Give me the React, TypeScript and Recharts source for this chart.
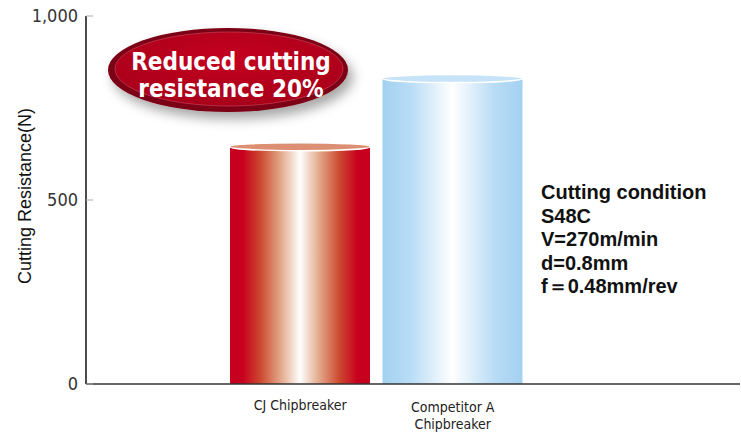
import React from "react";
import { BarChart, Bar, XAxis, YAxis } from "recharts";

// chart values
const categories = ["CJ Chipbreaker", "Competitor A\nChipbreaker"];
const resistance = [645, 830];
const yTicks = [0, 500, 1000];
const badgeLines = ["Reduced cutting", "resistance 20%"];
const conditionLines = ["Cutting condition", "S48C", "V=270m/min", "d=0.8mm", "f\uFF1D0.48mm/rev"];

const data = categories.map((name, i) => ({ name, value: resistance[i] }));

const W = 741;
const H = 432;
const NARROW = "'DejaVu Sans Condensed', 'Liberation Sans Narrow', 'Liberation Sans', Arial, sans-serif";
const SANS = "'Liberation Sans', Arial, sans-serif";

// cylinder bar, red for ours, blue for competitor
const Cylinder = (props: any) => {
  const { x, y, width, height, index } = props;
  const red = index === 0;
  const id = red ? "cylRed" : "cylBlue";
  return (
    <g>
      <defs>
        {red ? (
          <linearGradient id={id} x1="0" y1="0" x2="1" y2="0">
            <stop offset="0%" stopColor="#c8001f" />
            <stop offset="9%" stopColor="#c8001f" />
            <stop offset="22%" stopColor="#cc4a30" />
            <stop offset="38%" stopColor="#e6b396" />
            <stop offset="50%" stopColor="#ffffff" />
            <stop offset="62%" stopColor="#e6b396" />
            <stop offset="78%" stopColor="#cc4a30" />
            <stop offset="91%" stopColor="#c8001f" />
            <stop offset="100%" stopColor="#c8001f" />
          </linearGradient>
        ) : (
          <linearGradient id={id} x1="0" y1="0" x2="1" y2="0">
            <stop offset="0%" stopColor="#a3d1f1" />
            <stop offset="20%" stopColor="#b8dcf5" />
            <stop offset="50%" stopColor="#ffffff" />
            <stop offset="80%" stopColor="#b8dcf5" />
            <stop offset="100%" stopColor="#a3d1f1" />
          </linearGradient>
        )}
      </defs>
      <rect x={x} y={y} width={width} height={height} fill={`url(#${id})`} />
      <ellipse
        cx={x + width / 2}
        cy={y}
        rx={width / 2}
        ry={4}
        fill={red ? "#dc8f72" : "#c6e3f8"}
        stroke="#ffffff"
        strokeWidth={1.5}
      />
    </g>
  );
};

const CategoryTick = (props: any) => {
  const { x, y, payload } = props;
  const lines = String(payload.value).split("\n");
  const first = lines.length === 1 ? 18 : 20;
  return (
    <g>
      {lines.map((l, i) => (
        <text
          key={i}
          x={x}
          y={y + first + i * 16.5}
          textAnchor="middle"
          fill="#222"
          fontSize={14}
          fontFamily={NARROW}
        >
          {l}
        </text>
      ))}
    </g>
  );
};

const ValueTick = (props: any) => {
  const { x, y, payload } = props;
  return (
    <g>
      <line x1={x + 8} x2={x + 15} y1={y} y2={y} stroke="#aaaaaa" />
      <text x={x} y={y} dy={6} textAnchor="end" fill="#333" fontSize={18} fontFamily={NARROW}>
        {Number(payload.value).toLocaleString("en-US")}
      </text>
    </g>
  );
};

export default function App() {
  return (
    <div style={{ position: "absolute", left: 0, top: 0, width: W, height: H, background: "#fff" }}>
      <BarChart width={W} height={H} data={data} margin={{ top: 16, right: 1, left: 0, bottom: 0 }}>
        <XAxis
          dataKey="name"
          height={48}
          padding={{ left: 138, right: 211 }}
          tick={<CategoryTick />}
          tickLine={false}
          axisLine={{ stroke: "#333", strokeWidth: 1.5 }}
          interval={0}
        />
        <XAxis
          xAxisId="top"
          dataKey="name"
          orientation="top"
          height={0}
          tick={false}
          tickLine={false}
          axisLine={{ stroke: "#222", strokeWidth: 1.5 }}
        />
        <YAxis
          width={86}
          domain={[0, 1000]}
          ticks={yTicks}
          tick={<ValueTick />}
          tickLine={false}
          axisLine={{ stroke: "#111", strokeWidth: 1.5 }}
          label={{
            value: "Cutting Resistance(N)",
            angle: -90,
            position: "insideLeft",
            offset: 25,
            dy: -4,
            style: { fontSize: 18, fill: "#111", fontFamily: SANS, textAnchor: "middle" },
          }}
        />
        <YAxis
          yAxisId="right"
          orientation="right"
          width={0}
          tick={false}
          tickLine={false}
          axisLine={{ stroke: "#c8c8c8" }}
        />
        <Bar dataKey="value" barSize={140} shape={<Cylinder />} isAnimationActive={false} />
      </BarChart>

      {/* badge and test conditions */}
      <svg width={W} height={H} style={{ position: "absolute", left: 0, top: 0, pointerEvents: "none" }}>
        <defs>
          <filter id="badgeShadow" x="-20%" y="-30%" width="150%" height="180%">
            <feDropShadow dx="5" dy="7" stdDeviation="6" floodColor="#000" floodOpacity="0.35" />
          </filter>
          <radialGradient id="badgeFill" cx="50%" cy="35%" r="65%">
            <stop offset="0%" stopColor="#c4001f" />
            <stop offset="100%" stopColor="#a8001a" />
          </radialGradient>
        </defs>
        <ellipse cx={228} cy={70} rx={120} ry={42} fill="#7c0012" filter="url(#badgeShadow)" />
        <ellipse cx={229} cy={69} rx={114} ry={37} fill="url(#badgeFill)" stroke="#e06070" strokeWidth={0.8} strokeOpacity={0.6} />
        {badgeLines.map((l, i) => (
          <text
            key={i}
            x={231}
            y={70 + i * 27}
            textAnchor="middle"
            fill="#fff"
            fontSize={24}
            fontWeight="bold"
            fontFamily={NARROW}
          >
            {l}
          </text>
        ))}
        {conditionLines.map((l, i) => (
          <text key={i} x={541} y={199 + i * 23.5} fill="#111" fontSize={20} fontWeight="bold" fontFamily={SANS}>
            {l}
          </text>
        ))}
      </svg>
    </div>
  );
}
